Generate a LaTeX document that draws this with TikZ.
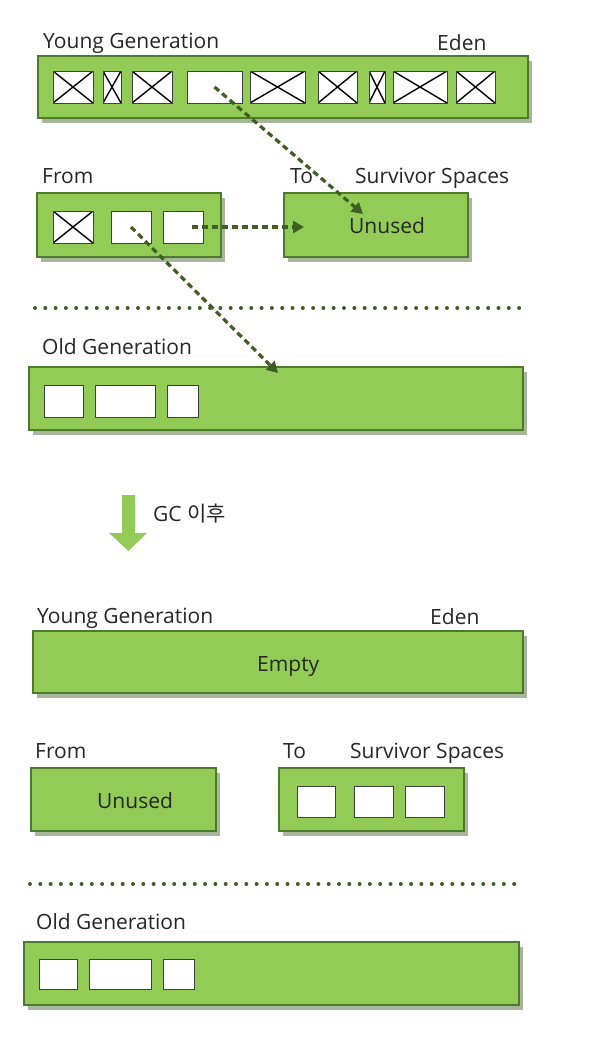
\documentclass[tikz,border=0pt]{standalone}
\usepackage{fontspec}
\setmainfont{Open Sans}
\newfontfamily\krfont{Noto Sans CJK KR}
\usetikzlibrary{fit,shadows,arrows.meta}
\definecolor{gfill}{RGB}{146,204,87}
\definecolor{gline}{RGB}{78,122,46}
\definecolor{gdark}{RGB}{62,94,36}
\tikzset{
 gbox/.style={draw=gline, line width=2.4pt, fill=gfill, inner sep=0pt,
   drop shadow={shadow xshift=4pt, shadow yshift=-5pt, fill=gdark, opacity=0.45}},
 wbox/.style={draw=black!75, line width=1pt, fill=white, inner sep=0pt},
 xbox/.style={wbox, path picture={\draw[line width=1.4pt, black]
   (path picture bounding box.north west) -- (path picture bounding box.south east)
   (path picture bounding box.south west) -- (path picture bounding box.north east);}},
 lbl/.style={anchor=base west, inner sep=0pt, font=\fontsize{21}{24}\selectfont, text=black!85},
 darrow/.style={draw=gdark, line width=3.2pt, dash pattern=on 6pt off 4pt,
   -{Triangle[length=11pt,width=12pt]}},
 sepline/.style={draw=gdark, line width=4pt, line cap=round, dash pattern=on 0pt off 10.3pt},
}
\begin{document}
\begin{tikzpicture}[x=1pt,y=-1pt]
\useasboundingbox (0,0) rectangle (609,1053);
% ---------- before GC ----------
\node[lbl] (yg1) at (43,48) {Young Generation};
\node[lbl] (ed1) at (437,50.5) {Eden};
\node[gbox, fit={(38,56)(528,118)}] (eden1) {};
\node[xbox, fit={(53,71)(93,103)}] (e1) {};
\node[xbox, fit={(103,71)(121,103)}] (e2) {};
\node[xbox, fit={(132,71)(172,103)}] (e3) {};
\node[wbox, fit={(187,71)(242,103)}] (e4) {};
\node[xbox, fit={(250,71)(305,103)}] (e5) {};
\node[xbox, fit={(318,71)(357,103)}] (e6) {};
\node[xbox, fit={(369,71)(385,103)}] (e7) {};
\node[xbox, fit={(393,71)(447,103)}] (e8) {};
\node[xbox, fit={(456,71)(495,103)}] (e9) {};

\node[lbl] (fr1) at (42,183) {From};
\node[lbl] (to1l) at (290,183) {To};
\node[lbl] (sv1) at (355,183) {Survivor Spaces};
\node[gbox, fit={(37,193)(221,257)}] (from1) {};
\node[xbox, fit={(53,211)(93,243)}] (f1) {};
\node[wbox, fit={(111,211)(151,243)}] (f2) {};
\node[wbox, fit={(163,211)(203,243)}] (f3) {};
\node[gbox, fit={(284,193)(468,257)}] (to1) {};
\node[lbl] (un1) at (349,233) {Unused};

\coordinate (s1a) at (35,308);
\coordinate (s1b) at (527,308);
\draw[sepline] (s1a) -- (s1b);

\node[lbl] (og1) at (42,354) {Old Generation};
\node[gbox, fit={(29,367)(523,430)}] (old1) {};
\node[wbox, fit={(44,385)(83,417)}] (o1) {};
\node[wbox, fit={(95,385)(155,417)}] (o2) {};
\node[wbox, fit={(167,385)(198,417)}] (o3) {};

\coordinate (a1e) at (363,214);
\coordinate (a2e) at (304,227);
\coordinate (a3e) at (278,373);
\draw[darrow] (e4.center) -- (a1e);
\draw[darrow] ([xshift=9pt]f3.center) -- (a2e);
\draw[darrow] (f2.center) -- (a3e);

% ---------- GC arrow ----------
\fill[gfill] (122,495) -- (135,495) -- (135,533) -- (147,533) -- (128.5,551) -- (109,533) -- (122,533) -- cycle;
\node[lbl] (gc) at (153,521) {GC \krfont 이후};

% ---------- after GC ----------
\node[lbl] (yg2) at (37,623) {Young Generation};
\node[lbl] (ed2) at (430,624) {Eden};
\node[gbox, fit={(33,631)(523,693)}] (eden2) {};
\node[lbl] (em2) at (257,671) {Empty};

\node[lbl] (fr2) at (35,758) {From};
\node[lbl] (to2l) at (283,758) {To};
\node[lbl] (sv2) at (350,758) {Survivor Spaces};
\node[gbox, fit={(31,768)(216,831)}] (from2) {};
\node[lbl] (un2) at (97,808) {Unused};
\node[gbox, fit={(279,768)(464,831)}] (to2) {};
\node[wbox, fit={(297,786)(335,817)}] (t1) {};
\node[wbox, fit={(354,786)(393,817)}] (t2) {};
\node[wbox, fit={(405,786)(444,817)}] (t3) {};

\coordinate (s2a) at (30,884);
\coordinate (s2b) at (523,884);
\draw[sepline] (s2a) -- (s2b);

\node[lbl] (og2) at (36,929) {Old Generation};
\node[gbox, fit={(24,942)(519,1005)}] (old2) {};
\node[wbox, fit={(39,959)(77,989)}] (p1) {};
\node[wbox, fit={(89,959)(151,989)}] (p2) {};
\node[wbox, fit={(163,959)(194,989)}] (p3) {};
\end{tikzpicture}
\end{document}
